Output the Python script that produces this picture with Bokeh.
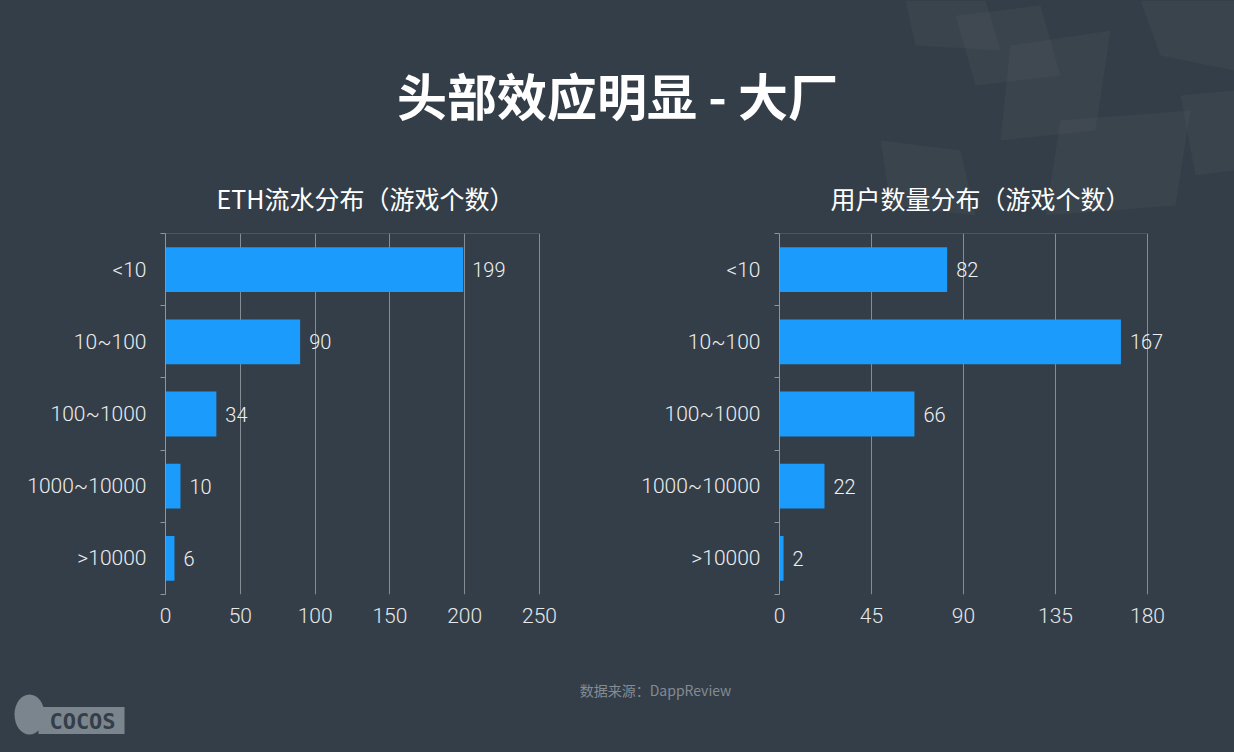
from bokeh.plotting import figure
from bokeh.layouts import column, row
from bokeh.models import (Range1d, FixedTicker, ColumnDataSource, LabelSet, BoxAnnotation)
from bokeh.core.properties import value
from bokeh.embed import file_html
from bokeh.resources import INLINE

# ---------------- data ----------------
categories = ["<10", "10~100", "100~1000", "1000~10000", ">10000"]
eth_counts = [199, 90, 34, 10, 6]
user_counts = [82, 167, 66, 22, 2]
eth_ticks = [0, 50, 100, 150, 200, 250]
user_ticks = [0, 45, 90, 135, 180]
main_title = "头部效应明显 - 大厂"
left_title = "ETH流水分布（游戏个数）"
right_title = "用户数量分布（游戏个数）"
source_note = "数据来源：DappReview"

BG = "#343e48"
BAR = "#1b9bfb"
GRID = "#8e959c"
CJK = "Noto Sans CJK SC"
LAT = "Roboto Light"


def base_fig(w, h, xr, yr):
    p = figure(width=w, height=h, x_range=xr, y_range=yr,
               output_backend="svg", toolbar_location=None, tools="")
    p.background_fill_color = BG
    p.border_fill_color = BG
    p.outline_line_color = None
    return p


def bar_chart(counts, ticks, left, grid_w, extra_w):
    # grid_w: pixel width of the gridded area; extra_w: free room on the right for labels
    n = len(categories)
    ypos = [n - i - 0.5 for i in range(n)]
    src = ColumnDataSource(dict(y=ypos, v=counts, lab=[str(c) for c in counts]))
    x_end = ticks[-1] * (grid_w + extra_w) / grid_w
    p = base_fig(617, 428, Range1d(0, x_end), Range1d(0, n))
    p.min_border_left = left
    p.min_border_right = 617 - left - grid_w - extra_w
    p.min_border_top = 11
    p.min_border_bottom = 56
    p.xaxis.ticker = FixedTicker(ticks=ticks)
    p.xaxis.axis_line_color = None
    p.xaxis.major_tick_line_color = None
    p.xaxis.minor_tick_line_color = None
    p.xaxis.major_label_text_font = LAT
    p.xaxis.major_label_text_font_size = "21px"
    p.xaxis.major_label_text_color = "#e6e8ea"
    p.xaxis.major_label_standoff = 7

    p.yaxis.ticker = FixedTicker(ticks=ypos, minor_ticks=list(range(n + 1)))
    p.yaxis.major_label_overrides = {y: c for y, c in zip(ypos, categories)}
    p.yaxis.axis_line_color = GRID
    p.yaxis.major_tick_line_color = None
    p.yaxis.minor_tick_line_color = GRID
    p.yaxis.minor_tick_in = 0
    p.yaxis.minor_tick_out = 5
    p.yaxis.major_label_text_font = LAT
    p.yaxis.major_label_text_font_size = "21px"
    p.yaxis.major_label_text_color = "#eceef0"
    p.yaxis.major_label_standoff = 13

    p.xgrid.ticker = FixedTicker(ticks=ticks)
    p.xgrid.grid_line_color = GRID
    p.xgrid.grid_line_alpha = 0.9
    p.ygrid.grid_line_color = None

    # top border line spanning only the gridded width
    p.add_layout(BoxAnnotation(left=0, right=ticks[-1], top=n, bottom=n,
                               fill_alpha=0, line_color=GRID, line_width=1))

    p.hbar(y="y", right="v", left=0, height=0.62, source=src,
           fill_color=BAR, line_color=None)
    p.add_layout(LabelSet(x="v", y="y", text="lab", source=src, x_offset=9,
                          text_baseline="middle", text_font=value(LAT),
                          text_font_size="20px", text_color="#eef0f2"))
    return p


# ---------------- title area ----------------
top = base_fig(1234, 222, Range1d(0, 1234), Range1d(222, 0))
top.axis.visible = False
top.grid.visible = False
top.min_border = 0
# faint decorative background shards (upper right)
shard_xs = [[955, 1040, 1060, 975], [1010, 1110, 1095, 1000], [1140, 1234, 1234, 1160],
            [1060, 1190, 1175, 1045], [880, 960, 975, 890], [1180, 1234, 1234, 1195],
            [905, 985, 1000, 915]]
shard_ys = [[15, 5, 75, 85], [45, 30, 130, 140], [0, 0, 70, 55],
            [120, 110, 205, 215], [140, 150, 215, 205], [95, 90, 170, 175],
            [0, 0, 50, 45]]
top.patches(xs=shard_xs, ys=shard_ys, fill_color="#ffffff", fill_alpha=0.03,
            line_color=None)
top.text(x=[617], y=[93], text=[main_title], text_align="center",
         text_baseline="middle", text_font=value(CJK), text_font_style="bold",
         text_font_size="50px", text_color="#ffffff")
top.text(x=[365, 980], y=[197, 197], text=[left_title, right_title],
         text_align="center", text_baseline="middle", text_font=value(CJK),
         text_font_size="25px", text_color="#ffffff")

left = bar_chart(eth_counts, eth_ticks, 165, 374, 30)
right = bar_chart(user_counts, user_ticks, 162, 368, 50)

# ---------------- footer ----------------
foot = base_fig(1234, 102, Range1d(0, 1234), Range1d(102, 0))
foot.axis.visible = False
foot.grid.visible = False
foot.min_border = 0
foot.text(x=[655], y=[39], text=[source_note], text_align="center",
          text_baseline="middle", text_font=value(CJK),
          text_font_size="14px", text_color="#838b93")
foot.rect(x=[81], y=[70], width=[86], height=[27], fill_color="#7b858e",
          line_color=None)
foot.ellipse(x=[29], y=[64], width=[30], height=[40], fill_color="#7b858e",
             line_color=None)
foot.text(x=[82], y=[71], text=["COCOS"], text_align="center",
          text_baseline="middle", text_font=value("DejaVu Sans Mono"),
          text_font_style="bold", text_font_size="22px", text_color=BG)

chart_row = row(left, right, styles={"background-color": BG})
layout = column(top, chart_row, foot, styles={"background-color": BG})
open("out.html", "w").write(file_html(layout, INLINE))
